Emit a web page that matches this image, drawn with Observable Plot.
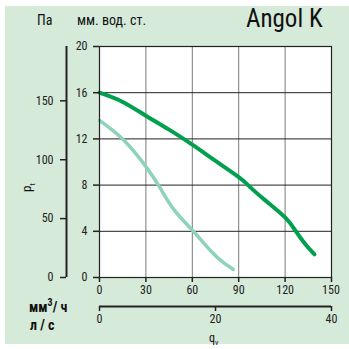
<!DOCTYPE html>
<html>
<head>
<meta charset="utf-8">
<script src="https://cdn.jsdelivr.net/npm/d3@7"></script>
<script src="https://cdn.jsdelivr.net/npm/@observablehq/plot@0.6"></script>
<style>
  html, body { margin: 0; padding: 0; background: #fff; }
  #wrap { position: relative; width: 349px; height: 349px; overflow: hidden;
          font-family: "Liberation Sans Narrow", "Roboto Condensed", "Liberation Sans", Arial, sans-serif; }
  #bg { position: absolute; left: 5px; top: 6px; width: 344px; height: 338px; background: #d5ead8; }
  #chart { position: absolute; left: 0; top: 0; }
  .lbl { position: absolute; color: #111; white-space: nowrap; line-height: 1; }
</style>
</head>
<body>
<div id="wrap">
  <div id="bg"></div>
  <div id="chart"></div>
  <div class="lbl" style="left:37px; top:13px; font-size:14px;">Па</div>
  <div class="lbl" style="left:77px; top:13px; font-size:14px;">мм. вод. ст.</div>
  <div class="lbl" style="left:246px; top:6px; font-size:25px;">Angol K</div>
  <div class="lbl" style="left:20px; top:192px; font-size:13px; transform: rotate(-90deg); transform-origin: 0 0;">p<sub style="font-size:8px;">t</sub></div>
  <div class="lbl" style="left:29px; top:298px; font-size:14px; font-weight:bold;">мм<sup style="font-size:10px;">3</sup>/ ч</div>
  <div class="lbl" style="left:30px; top:318px; font-size:14px; font-weight:bold;">л / с</div>
  <div class="lbl" style="left:209px; top:332px; font-size:12px;">q<sub style="font-size:8px;">v</sub></div>
  <div id="lastTick" class="lbl" style="left:331px; top:284px; font-size:12px; color:#222; transform: translateX(-50%);"></div>
</div>
<script>
// Data (flow in m³/h, pressure in mm water column)
const flowDark = [0, 15, 30, 45, 60, 75, 90, 96, 107, 120, 127, 133, 139];
const pressDark = [16, 15.2, 14.0, 12.8, 11.5, 10.1, 8.7, 8.0, 6.7, 5.2, 4.0, 2.9, 2.0];
const flowLight = [0, 15.6, 30, 39, 48, 60, 72, 80, 86.5];
const pressLight = [13.6, 11.9, 9.6, 7.8, 5.9, 4.1, 2.3, 1.3, 0.7];

const flowTicks = [0, 30, 60, 90, 120, 150];
const mmTicks = [0, 4, 8, 12, 16, 20];
const paTicks = [0, 50, 100, 150];
const lsTicks = [0, 20, 40];

const PA_PER_MM = 9.80665;
const LS_TO_AXIS = 150 / 40;

const dark = flowDark.map((q, i) => ({q, p: pressDark[i]}));
const light = flowLight.map((q, i) => ({q, p: pressLight[i]}));

const fontFam = '"Liberation Sans Narrow", "Roboto Condensed", "Liberation Sans", Arial, sans-serif';
const lastFlow = flowTicks[flowTicks.length - 1];

const chart = Plot.plot({
  width: 349,
  height: 349,
  marginLeft: 99,
  marginRight: 18,
  marginTop: 46,
  marginBottom: 72,
  style: {background: "transparent", fontFamily: fontFam, fontSize: "12px", color: "#222", overflow: "visible"},
  x: {domain: [0, 150], axis: null},
  y: {domain: [0, 20], axis: null},
  marks: [
    Plot.frame({fill: "#fff", stroke: null}),
    Plot.gridX({ticks: flowTicks.slice(1, -1), stroke: "#7a7a7a", strokeOpacity: 1, strokeWidth: 1}),
    Plot.gridY({ticks: mmTicks.slice(1, -1), stroke: "#222", strokeOpacity: 1, strokeWidth: 1}),
    Plot.line(light, {x: "q", y: "p", stroke: "#8dd3bc", strokeWidth: 3.5, curve: "natural"}),
    Plot.line(dark, {x: "q", y: "p", stroke: "#00a04f", strokeWidth: 4, curve: "natural"}),
    Plot.frame({stroke: "#222", strokeWidth: 1.2}),
    // l/s axis
    Plot.ruleY([0], {dy: 29, stroke: "#222", strokeWidth: 2}),
    Plot.axisX({ticks: lsTicks.map(v => v * LS_TO_AXIS), anchor: "bottom", dy: 29, tickSize: 5, tickPadding: 3, fontSize: 12,
      tickFormat: d => Math.round(d / LS_TO_AXIS), label: null, stroke: "#222", strokeWidth: 1.5}),
    // main left axis (mm water column)
    Plot.axisY({ticks: mmTicks, anchor: "left", tickSize: 6, tickPadding: 6, fontSize: 12, label: null, stroke: "#222", strokeWidth: 1.5}),
    // main bottom axis (m³/h); the last label is set as HTML text below
    Plot.axisX({ticks: flowTicks, anchor: "bottom", tickSize: 5, tickPadding: 3, fontSize: 12, label: null,
      tickFormat: d => (d === lastFlow ? "" : String(d)), stroke: "#222", strokeWidth: 1.5}),
    // Pa axis
    Plot.ruleX([0], {y1: 0, y2: 20, dx: -33, stroke: "#222", strokeWidth: 2}),
    Plot.axisY({ticks: paTicks.map(p => p / PA_PER_MM), anchor: "left", dx: -33, tickSize: 6, tickPadding: 7, fontSize: 12,
      tickFormat: d => Math.round(d * PA_PER_MM), label: null, stroke: "#222", strokeWidth: 1.5})
  ]
});
document.getElementById("chart").appendChild(chart);
document.getElementById("lastTick").textContent = String(lastFlow);
</script>
</body>
</html>
